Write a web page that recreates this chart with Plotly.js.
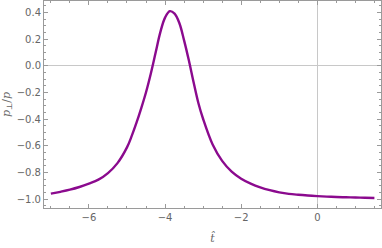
<!DOCTYPE html>
<html>
<head>
<meta charset="utf-8">
<script src="https://cdn.plot.ly/plotly-3.0.1.min.js"></script>
<style>html,body{margin:0;padding:0;background:#fff;}#chart{width:382px;height:248px;}</style>
</head>
<body>
<div id="chart"></div>
<script>
var tHat = [-7.0, -6.75, -6.5, -6.25, -6.0, -5.75, -5.5, -5.25, -5.0, -4.875, -4.75, -4.625, -4.5, -4.375, -4.25, -4.125, -4.0, -3.875, -3.75, -3.625, -3.5, -3.375, -3.25, -3.125, -3.0, -2.75, -2.5, -2.25, -2.0, -1.75, -1.5, -1.25, -1.0, -0.75, -0.5, -0.25, 0.0, 0.25, 0.5, 0.75, 1.0, 1.25, 1.5];
var pRatio = [-0.960, -0.946, -0.930, -0.910, -0.885, -0.855, -0.806, -0.731, -0.613, -0.527, -0.428, -0.318, -0.199, -0.060, 0.095, 0.250, 0.360, 0.409, 0.390, 0.320, 0.190, 0.040, -0.125, -0.280, -0.400, -0.591, -0.714, -0.795, -0.848, -0.885, -0.913, -0.934, -0.950, -0.9615, -0.9685, -0.974, -0.9785, -0.982, -0.985, -0.987, -0.989, -0.9905, -0.992];
var xTickVals = [-6, -4, -2, 0];
var xTickText = ['\u22126', '\u22124', '\u22122', '0'];
var yTickVals = [-1.0, -0.8, -0.6, -0.4, -0.2, 0.0, 0.2, 0.4];
var yTickText = ['\u22121.0', '\u22120.8', '\u22120.6', '\u22120.4', '\u22120.2', '0.0', '0.2', '0.4'];

var trace = {
  x: tHat, y: pRatio, type: 'scatter', mode: 'lines',
  line: {color: '#8b0a8e', width: 2.4, shape: 'spline', smoothing: 1},
  hoverinfo: 'skip'
};
var axisCommon = {
  showline: true, linecolor: '#9a9a9a', linewidth: 1, mirror: 'allticks',
  ticks: 'inside', ticklen: 4, tickcolor: '#9a9a9a', tickwidth: 1,
  showgrid: false, zeroline: true, zerolinecolor: '#c8c8c8', zerolinewidth: 1,
  tickfont: {family: 'DejaVu Sans, sans-serif', size: 10, color: '#666'}
};
var layout = {
  width: 382, height: 248,
  margin: {l: 44, r: 1, t: 1, b: 40},
  paper_bgcolor: '#fff', plot_bgcolor: '#fff',
  showlegend: false,
  xaxis: Object.assign({}, axisCommon, {
    range: [-7.18, 1.673], tickvals: xTickVals, ticktext: xTickText,
    minor: {dtick: 0.5, tick0: 0, ticks: 'inside', ticklen: 2, tickcolor: '#9a9a9a', showgrid: false},
    title: {text: '<i>t\u0302</i>', font: {family: 'DejaVu Serif, serif', size: 11, color: '#666'}, standoff: 12}
  }),
  yaxis: Object.assign({}, axisCommon, {
    range: [-1.0675, 0.485], tickvals: yTickVals, ticktext: yTickText,
    minor: {dtick: 0.05, tick0: 0, ticks: 'inside', ticklen: 2, tickcolor: '#9a9a9a', showgrid: false},
    title: {text: '<i>p</i><sub>\u22a5</sub>/<i>p</i>', font: {family: 'DejaVu Serif, serif', size: 11, color: '#666'}, standoff: 6}
  })
};
Plotly.newPlot('chart', [trace], layout, {staticPlot: true, displayModeBar: false});
</script>
</body>
</html>
